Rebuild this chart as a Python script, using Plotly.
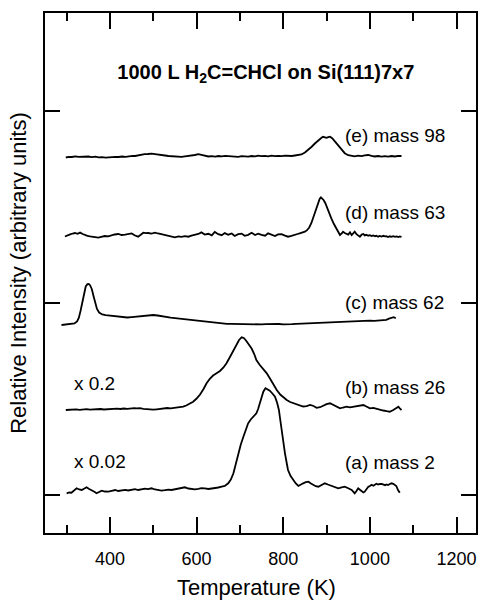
import plotly.graph_objects as go

# ---------------- data (temperature in K, intensity in arbitrary units, curves offset for display) -------------
temp_e = [298, 305, 312, 320, 328, 335, 342, 350, 358, 366, 374, 382, 390, 398, 405, 412, 420, 428, 436, 444,
          452, 458, 465, 473, 480, 488, 496, 504, 512, 519, 527, 535, 542, 550, 558, 565, 573, 581, 589, 596,
          604, 612, 620, 627, 635, 643, 650, 658, 666, 673, 681, 689, 696, 704, 712, 719, 727, 735, 742, 750,
          758, 765, 773, 781, 789, 796, 804, 811, 819, 827, 835, 842, 850, 858, 865, 873, 879, 885, 889, 892,
          896, 900, 904, 908, 913, 919, 927, 935, 942, 950, 957, 965, 973, 981, 988, 996, 1004, 1011, 1019,
          1027, 1035, 1042, 1050, 1058, 1065, 1073]
int_e = [337.5, 338.2, 338.0, 338.6, 338.1, 338.4, 338.0, 338.5, 337.9, 338.3, 337.6, 337.9, 337.4, 337.8, 337.6,
         338.2, 338.0, 338.5, 338.2, 338.9, 339.2, 339.0, 339.8, 340.2, 340.8, 341.0, 341.4, 340.9, 340.2, 339.8,
         339.5, 339.0, 338.8, 338.4, 338.6, 338.2, 338.7, 339.0, 339.5, 340.0, 340.8, 339.9, 339.2, 338.5, 338.9,
         338.4, 339.0, 338.6, 339.1, 338.8, 338.3, 338.7, 338.2, 338.9, 338.5, 338.4, 339.0, 338.6, 339.3, 338.8,
         339.1, 338.7, 339.4, 338.9, 339.2, 338.8, 339.4, 339.1, 339.0, 339.5, 340.0, 340.5, 342.5, 345.0, 348.0,
         351.5, 354.0, 356.5, 357.5, 358.2, 357.4, 357.2, 357.8, 358.3, 356.8, 353.5, 349.0, 345.0, 341.8, 339.8,
         339.0, 338.6, 339.3, 338.8, 339.7, 340.0, 339.1, 338.5, 339.0, 338.3, 338.8, 338.4, 339.0, 338.5, 339.2,
         339.0]

temp_d = [296, 302, 308, 314, 319, 325, 331, 337, 342, 348, 354, 360, 366, 373, 380, 388, 396, 404, 411, 419,
          427, 435, 442, 450, 458, 465, 471, 477, 483, 488, 496, 504, 511, 519, 527, 535, 542, 550, 558, 565,
          573, 581, 588, 596, 604, 611, 619, 627, 635, 642, 650, 658, 665, 673, 681, 688, 696, 704, 711, 719,
          727, 735, 742, 750, 758, 765, 773, 781, 788, 796, 804, 811, 819, 827, 833, 838, 844, 850, 855, 860,
          865, 869, 873, 877, 881, 884, 887, 890, 893, 897, 900, 905, 911, 917, 923, 928, 931, 935, 938, 942,
          946, 950, 954, 958, 962, 965, 969, 973, 977, 981, 985, 988, 992, 996, 1000, 1004, 1008, 1012, 1015,
          1019, 1023, 1027, 1031, 1035, 1038, 1042, 1046, 1050, 1054, 1058, 1062, 1066, 1069, 1073]
int_d = [258.5, 259.8, 260.6, 261.5, 262.0, 261.2, 262.4, 261.0, 259.8, 259.2, 258.6, 258.0, 257.8, 257.3, 258.2,
         259.0, 258.6, 259.8, 260.5, 261.0, 260.0, 260.4, 261.3, 261.6, 259.5, 258.3, 260.2, 262.3, 261.8, 262.0,
         261.4, 262.3, 261.5, 260.8, 259.9, 259.0, 258.5, 257.7, 258.6, 258.2, 258.9, 258.3, 259.4, 260.2, 261.0,
         262.6, 260.4, 261.2, 259.6, 263.0, 260.8, 259.8, 261.9, 260.3, 261.5, 259.0, 260.8, 261.4, 259.2, 260.2,
         262.2, 260.0, 261.3, 260.1, 259.3, 261.7, 260.4, 259.0, 260.6, 260.9, 259.4, 258.3, 259.1, 259.8, 261.0,
         261.7, 262.4, 263.3, 264.8, 267.5, 272.0, 277.0, 283.0, 288.0, 293.0, 296.0, 297.7, 296.8, 295.0, 292.0,
         288.3, 283.5, 276.7, 271.0, 266.7, 262.5, 260.0, 261.5, 263.3, 262.0, 261.2, 260.4, 262.6, 260.0, 261.8,
         263.3, 260.9, 259.5, 258.3, 260.4, 261.0, 259.6, 260.2, 259.3, 259.8, 258.9, 259.6, 258.8, 259.3, 258.3,
         259.0, 258.5, 259.2, 258.6, 258.9, 257.9, 258.7, 258.2, 258.8, 258.1, 258.6, 258.0, 258.5, 258.2]

temp_c = [288, 300, 310, 318, 324, 328, 332, 336, 340, 344, 348, 351, 354, 358, 362, 366, 370, 375, 382, 390,
          400, 410, 420, 430, 440, 450, 460, 470, 480, 490, 500, 510, 520, 530, 540, 550, 560, 570, 580, 590,
          600, 610, 620, 630, 640, 650, 660, 670, 680, 690, 700, 710, 720, 730, 740, 750, 760, 770, 780, 790,
          800, 810, 820, 830, 840, 850, 860, 870, 880, 890, 900, 910, 920, 930, 940, 950, 960, 970, 980, 990,
          1000, 1010, 1020, 1030, 1038, 1044, 1050, 1055, 1060]
int_c = [170.0, 170.3, 170.8, 171.5, 173.5, 177.0, 184.0, 193.0, 202.0, 208.5, 210.8, 211.0, 209.8, 206.0, 199.0,
         191.0, 186.0, 182.5, 180.5, 179.8, 179.4, 179.0, 178.4, 177.8, 177.5, 177.9, 178.2, 178.6, 179.2, 179.7,
         180.0, 179.5, 178.6, 177.8, 177.4, 176.9, 176.4, 175.8, 175.2, 174.6, 174.1, 173.7, 173.3, 172.7, 172.3,
         171.9, 171.4, 171.2, 171.1, 171.0, 170.8, 170.9, 170.6, 170.4, 170.3, 170.6, 170.9, 171.1, 170.8, 171.0,
         170.7, 170.5, 170.9, 171.2, 171.4, 171.7, 171.6, 172.0, 172.2, 172.4, 172.6, 172.9, 173.2, 173.4, 173.6,
         173.8, 174.0, 174.2, 174.1, 174.3, 174.3, 174.2, 174.4, 174.5, 175.2, 176.3, 177.5, 177.8, 176.8]

temp_b = [298, 306, 314, 322, 330, 338, 346, 354, 362, 370, 378, 386, 392, 400, 408, 416, 424, 432, 440, 448,
          456, 462, 469, 477, 485, 492, 500, 508, 516, 524, 532, 540, 548, 556, 564, 569, 576, 584, 592, 600,
          608, 616, 623, 631, 638, 646, 654, 662, 669, 677, 685, 692, 698, 704, 709, 714, 719, 727, 733, 738,
          745, 753, 762, 770, 777, 785, 793, 800, 808, 816, 823, 831, 839, 846, 854, 862, 870, 877, 885, 893,
          900, 908, 916, 923, 931, 938, 946, 954, 962, 970, 977, 985, 992, 1000, 1008, 1016, 1023, 1031, 1039,
          1046, 1054, 1062, 1066, 1069, 1073]
int_b = [85.0, 85.3, 85.0, 85.6, 85.2, 85.5, 85.9, 85.4, 85.8, 85.6, 86.0, 85.5, 85.7, 86.2, 85.8, 86.3, 86.0,
         86.5, 86.1, 86.6, 86.9, 86.6, 86.9, 86.2, 85.8, 85.5, 85.3, 85.7, 86.3, 86.8, 87.0, 86.7, 87.1, 87.4,
         87.8, 88.3, 89.5, 91.0, 93.3, 96.5, 100.5, 106.0, 111.7, 116.5, 119.5, 121.7, 124.0, 127.5, 131.7, 138.0,
         145.0, 150.5, 155.0, 157.7, 157.0, 154.5, 151.7, 146.5, 141.0, 135.0, 130.5, 126.5, 121.7, 116.0, 110.5,
         105.0, 100.5, 97.5, 95.0, 93.0, 92.0, 91.0, 89.5, 88.5, 88.8, 90.0, 89.0, 87.2, 87.8, 89.5, 90.8, 91.7,
         90.0, 88.0, 86.7, 87.5, 88.3, 87.6, 88.3, 89.0, 89.5, 90.0, 88.5, 86.7, 87.2, 86.0, 85.2, 84.5, 83.8,
         83.3, 85.0, 87.5, 88.3, 86.5, 85.0]

temp_a = [300, 306, 311, 317, 323, 329, 335, 341, 346, 352, 358, 364, 369, 375, 381, 388, 396, 404, 412, 419,
          427, 435, 442, 450, 458, 465, 473, 481, 488, 496, 504, 511, 519, 527, 535, 542, 550, 558, 565, 573,
          581, 588, 596, 604, 611, 619, 627, 635, 642, 650, 658, 665, 673, 679, 685, 690, 696, 702, 708, 713,
          719, 725, 731, 738, 742, 746, 750, 754, 759, 764, 769, 775, 781, 786, 790, 793, 796, 800, 804, 808,
          811, 817, 823, 829, 835, 840, 846, 852, 858, 864, 869, 875, 881, 888, 896, 903, 911, 919, 927, 935,
          942, 950, 958, 962, 965, 969, 973, 977, 981, 985, 988, 992, 996, 1000, 1004, 1008, 1011, 1015, 1019,
          1023, 1027, 1031, 1035, 1038, 1042, 1046, 1050, 1054, 1058, 1061, 1065, 1069]
int_a = [1.7, 2.5, 2.3, 4.5, 6.7, 5.5, 5.0, 6.5, 7.7, 6.0, 5.0, 3.2, 1.7, 2.8, 4.3, 3.5, 3.3, 4.2, 5.0, 4.0,
         4.3, 5.2, 4.5, 5.0, 5.8, 5.0, 5.7, 6.3, 5.8, 6.7, 5.5, 5.0, 4.3, 4.8, 5.4, 5.0, 5.8, 6.5, 7.3, 7.7,
         6.5, 6.0, 5.7, 6.2, 6.9, 6.7, 6.0, 6.5, 6.7, 7.5, 8.3, 9.0, 11.7, 15.5, 21.7, 30.0, 41.7, 50.5, 58.3,
         65.5, 71.7, 75.5, 78.3, 81.7, 86.0, 91.7, 97.5, 103.3, 106.7, 105.8, 104.3, 101.5, 98.3, 92.0, 85.0,
         75.5, 65.0, 53.0, 41.7, 32.0, 25.0, 19.0, 15.0, 11.5, 9.0, 10.5, 11.7, 12.8, 13.3, 11.5, 10.0, 8.8,
         8.3, 10.2, 11.7, 10.5, 9.0, 7.8, 6.7, 7.6, 8.3, 6.8, 5.0, 3.2, 1.7, 4.0, 6.7, 5.2, 3.8, 2.5, 3.3, 6.0,
         8.0, 9.0, 10.2, 9.3, 10.0, 11.3, 10.5, 11.2, 11.0, 10.4, 9.8, 10.6, 10.0, 11.0, 11.7, 11.2, 10.0, 9.0,
         5.0, 2.3]

curve_labels = ["(e) mass 98", "(d) mass 63", "(c) mass 62", "(b) mass 26", "(a) mass 2"]
label_levels = [360, 283, 193, 108, 33]
label_temp = 938
scale_labels = ["x 0.2", "x 0.02"]
scale_levels = [112, 34]
scale_temp = 312

x_major_ticks = [400, 600, 800, 1000, 1200]
x_minor_ticks = [300, 500, 700, 900, 1100]
y_ticks = [0, 192, 384]
title_text = "<b>1000 L H<sub>2</sub>C=CHCl on Si(111)7x7</b>"
x_title = "Temperature (K)"
y_title = "Relative Intensity (arbitrary units)"

FONT = "Liberation Sans, Arial, sans-serif"

fig = go.Figure()
for tx, iy in [(temp_e, int_e), (temp_d, int_d), (temp_c, int_c), (temp_b, int_b), (temp_a, int_a)]:
    fig.add_trace(go.Scatter(x=tx, y=iy, mode="lines",
                             line=dict(color="black", width=1.8), showlegend=False, hoverinfo="skip"))

for txt, lv in zip(curve_labels, label_levels):
    fig.add_annotation(x=label_temp, y=lv, text=txt, showarrow=False, xanchor="left", yanchor="middle",
                       font=dict(family=FONT, size=19, color="black"))
for txt, lv in zip(scale_labels, scale_levels):
    fig.add_annotation(x=scale_temp, y=lv, text=txt, showarrow=False, xanchor="left", yanchor="middle",
                       font=dict(family=FONT, size=19, color="black"))

# x-axis title placed just under the tick labels
fig.add_annotation(xref="paper", yref="paper", x=0.49, y=-0.104, text=x_title, showarrow=False,
                   xanchor="center", yanchor="middle", font=dict(family=FONT, size=22, color="black"))

fig.update_layout(
    width=479, height=601,
    margin=dict(l=45, r=3, t=13, b=68),
    paper_bgcolor="white", plot_bgcolor="white",
    font=dict(family=FONT, color="black"),
    title=dict(text=title_text, x=0.555, xanchor="center", y=1 - 72 / 601, yanchor="middle",
               font=dict(family=FONT, size=20, color="black")),
    xaxis=dict(range=[250, 1245], tickvals=x_major_ticks, ticks="inside", ticklen=16, tickwidth=2,
               tickcolor="black", showline=True, linecolor="black", linewidth=2, mirror="allticks",
               showgrid=False, zeroline=False, tickfont=dict(family=FONT, size=18, color="black"),
               ticklabelstandoff=8, automargin=False,
               minor=dict(tickvals=x_minor_ticks, ticks="inside", ticklen=8, tickwidth=2,
                          tickcolor="black", showgrid=False)),
    yaxis=dict(range=[-38, 482], tickvals=y_ticks, ticks="inside", ticklen=15, tickwidth=2,
               tickcolor="black", showline=True, linecolor="black", linewidth=2, mirror="allticks",
               showgrid=False, zeroline=False, showticklabels=False, automargin=False,
               title=dict(text=y_title, font=dict(family=FONT, size=22, color="black"), standoff=10)),
)

fig.write_html("out.html", config={"displayModeBar": False},
               post_script="document.body.style.margin='0';document.body.style.overflow='hidden';")
